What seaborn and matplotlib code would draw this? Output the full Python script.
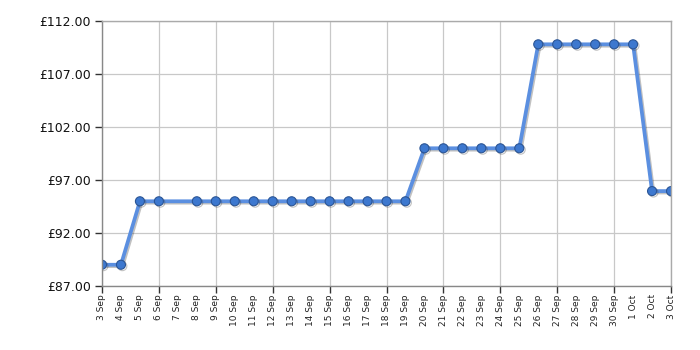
import matplotlib
matplotlib.use("Agg")
import matplotlib.pyplot as plt
import matplotlib.patheffects as pe
from matplotlib.ticker import FuncFormatter
import pandas as pd
import seaborn as sns

dates = ["2023-09-03", "2023-09-04", "2023-09-05", "2023-09-06",
         "2023-09-08", "2023-09-09", "2023-09-10", "2023-09-11", "2023-09-12",
         "2023-09-13", "2023-09-14", "2023-09-15", "2023-09-16", "2023-09-17",
         "2023-09-18", "2023-09-19", "2023-09-20", "2023-09-21", "2023-09-22",
         "2023-09-23", "2023-09-24", "2023-09-25", "2023-09-26", "2023-09-27",
         "2023-09-28", "2023-09-29", "2023-09-30", "2023-10-01", "2023-10-02",
         "2023-10-03"]
prices = [89.00, 89.00, 94.99, 94.99,
          94.99, 94.99, 94.99, 94.99, 94.99,
          94.99, 94.99, 94.99, 94.99, 94.99,
          94.99, 94.99, 99.99, 99.99, 99.99,
          99.99, 99.99, 99.99, 109.80, 109.80,
          109.80, 109.80, 109.80, 109.80, 95.95,
          95.95]
y_ticks = [87, 92, 97, 102, 107, 112]

df = pd.DataFrame({"date": pd.to_datetime(dates), "price": prices})

sns.set_theme(style="white")
plt.rcParams["font.family"] = ["DejaVu Sans"]

fig = plt.figure(figsize=(7, 3.5), dpi=100)
ax = fig.add_axes([0.1457, 0.183, 0.9586 - 0.1457, 0.94 - 0.183])

sns.lineplot(data=df, x="date", y="price", ax=ax, color="#5b8fe0",
             linewidth=2.7, marker="o", markersize=6.5,
             markerfacecolor="#3d78cf", markeredgecolor="#2b5595",
             markeredgewidth=0.8,
             path_effects=[pe.SimpleLineShadow(offset=(1.0, -1.0), shadow_color="#333333", alpha=0.3),
                           pe.Normal()])

start = pd.Timestamp("2023-09-03")
end = pd.Timestamp("2023-10-03")
ax.set_xlim(start, end)
ax.set_ylim(87, 112)
ax.set_yticks(y_ticks)
ax.yaxis.set_major_formatter(FuncFormatter(lambda v, p: f"£{v:.2f}"))

all_days = pd.date_range(start, end, freq="1D")
grid_days = pd.date_range(start, end, freq="3D")
ax.xaxis.remove_overlapping_locs = False
ax.set_xticks(all_days)
ax.set_xticklabels([f"{d.day} {d.strftime('%b')}" for d in all_days],
                   rotation=90, fontsize=6.5, color="#222222")
ax.set_xticks(grid_days, minor=True)
ax.tick_params(axis="x", which="major", length=0, pad=6)
ax.tick_params(axis="x", which="minor", length=5, width=1, color="#333333", direction="out", bottom=True)
ax.tick_params(axis="y", which="major", length=5, width=1, color="#333333", direction="out", left=True,
               labelsize=9, labelcolor="#111111", pad=3)

ax.grid(False, which="major", axis="x")
ax.grid(True, which="minor", axis="x", color="#c8c8c8", linewidth=0.9)
ax.grid(True, which="major", axis="y", color="#c8c8c8", linewidth=0.9)
ax.set_axisbelow(True)
for s in ["top", "right"]:
    ax.spines[s].set_color("#aaaaaa")
    ax.spines[s].set_linewidth(1)
for s in ["left", "bottom"]:
    ax.spines[s].set_color("#888888")
    ax.spines[s].set_linewidth(1)
ax.set_xlabel("")
ax.set_ylabel("")

fig.savefig("out.png", dpi=100)
